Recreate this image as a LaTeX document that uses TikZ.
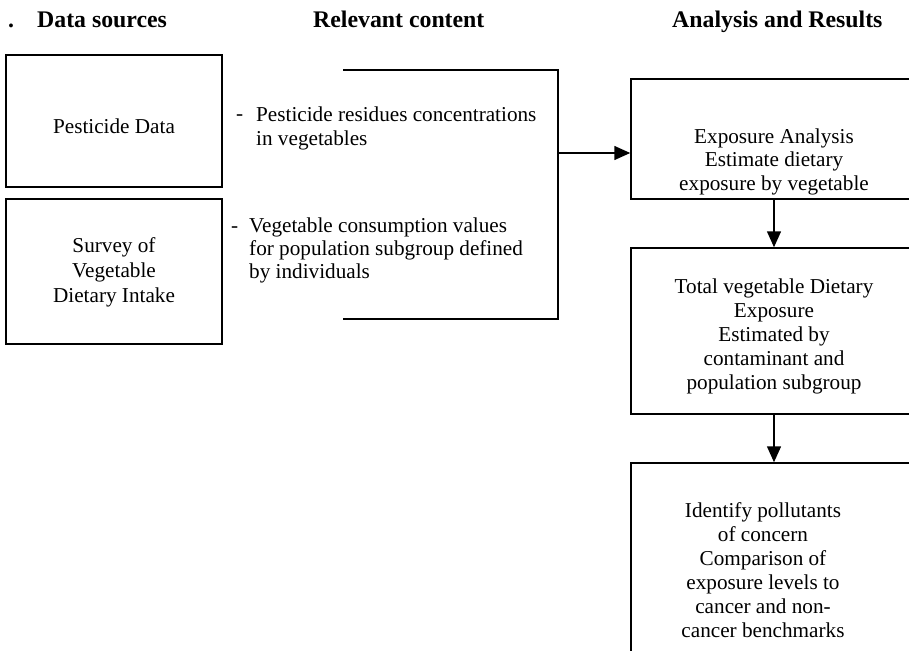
\documentclass[tikz,border=0pt]{standalone}
\usepackage{fontspec}
\setmainfont{Liberation Serif}
\usetikzlibrary{arrows.meta}
\begin{document}
\begin{tikzpicture}[x=1pt,y=-1pt,
  box/.style={draw, line width=1.5pt, rectangle, inner sep=0pt},
  txt/.style={font=\fontsize{21.2}{24}\selectfont, align=center, inner sep=0pt, anchor=base},
  ltxt/.style={font=\fontsize{21.2}{24}\selectfont, align=left, inner sep=0pt, anchor=base west},
  hdr/.style={font=\fontsize{23.8}{26}\selectfont\bfseries, inner sep=0pt, anchor=base west},
  conn/.style={line width=1.5pt},
  arr/.style={line width=1.5pt, -{Triangle[length=16pt,width=14pt]}}
]
\useasboundingbox (0,0) rectangle (909,650);
\clip (0,0) rectangle (909,650);

% headers
\node[hdr] (dot) at (8,28) {.};
\node[hdr] (h1) at (37,28) {Data sources};
\node[hdr] (h2) at (313,28) {Relevant content};
\node[hdr] (h3) at (672,28) {Analysis and Results};

% data source boxes (multi-line text anchored at the last line's baseline)
\node[box, minimum width=216pt, minimum height=132pt] (ds1) at (114,121) {};
\node[txt] (ds1t) at (114,133) {Pesticide Data};
\node[box, minimum width=216pt, minimum height=145pt] (ds2) at (114,271.5) {};
\node[txt, font=\fontsize{21.2}{25}\selectfont] (ds2t) at (114,302) {Survey of\\Vegetable\\Dietary Intake};

% relevant content
\node[ltxt] (d1) at (236,121) {-};
\node[ltxt] (c1) at (256,145) {Pesticide residues concentrations\\in vegetables};
\node[ltxt] (d2) at (231,232) {-};
\node[ltxt, font=\fontsize{21.2}{23}\selectfont] (c2) at (249,278) {Vegetable consumption values\\for population subgroup defined\\by individuals};

% bracket
\coordinate (b1) at (343,70);
\coordinate (b2) at (558,70);
\coordinate (b3) at (558,319);
\coordinate (b4) at (343,319);
\coordinate (bm) at (558,153);
\draw[conn] (b1) -- (b2) -- (b3) -- (b4);

% analysis boxes
\node[box, minimum width=286pt, minimum height=120pt] (ea) at (774,139) {};
\node[txt, font=\fontsize{21.2}{23.5}\selectfont] (eat) at (774,190) {Exposure Analysis\\Estimate dietary\\exposure by vegetable};
\node[box, minimum width=286pt, minimum height=166pt] (te) at (774,331) {};
\node[txt] (tet) at (774,389) {Total vegetable Dietary\\Exposure\\Estimated by\\contaminant and\\population subgroup};
\node[box, minimum width=286pt, minimum height=214pt] (ip) at (774,570) {};
\node[txt] (ipt) at (763,637) {Identify pollutants\\of concern\\Comparison of\\exposure levels to\\cancer and non-\\cancer benchmarks};

% connectors
\draw[arr] (bm) -- (bm -| ea.west);
\draw[arr] (ea.south) -- (te.north);
\draw[arr] (te.south) -- (ip.north);
\end{tikzpicture}
\end{document}
